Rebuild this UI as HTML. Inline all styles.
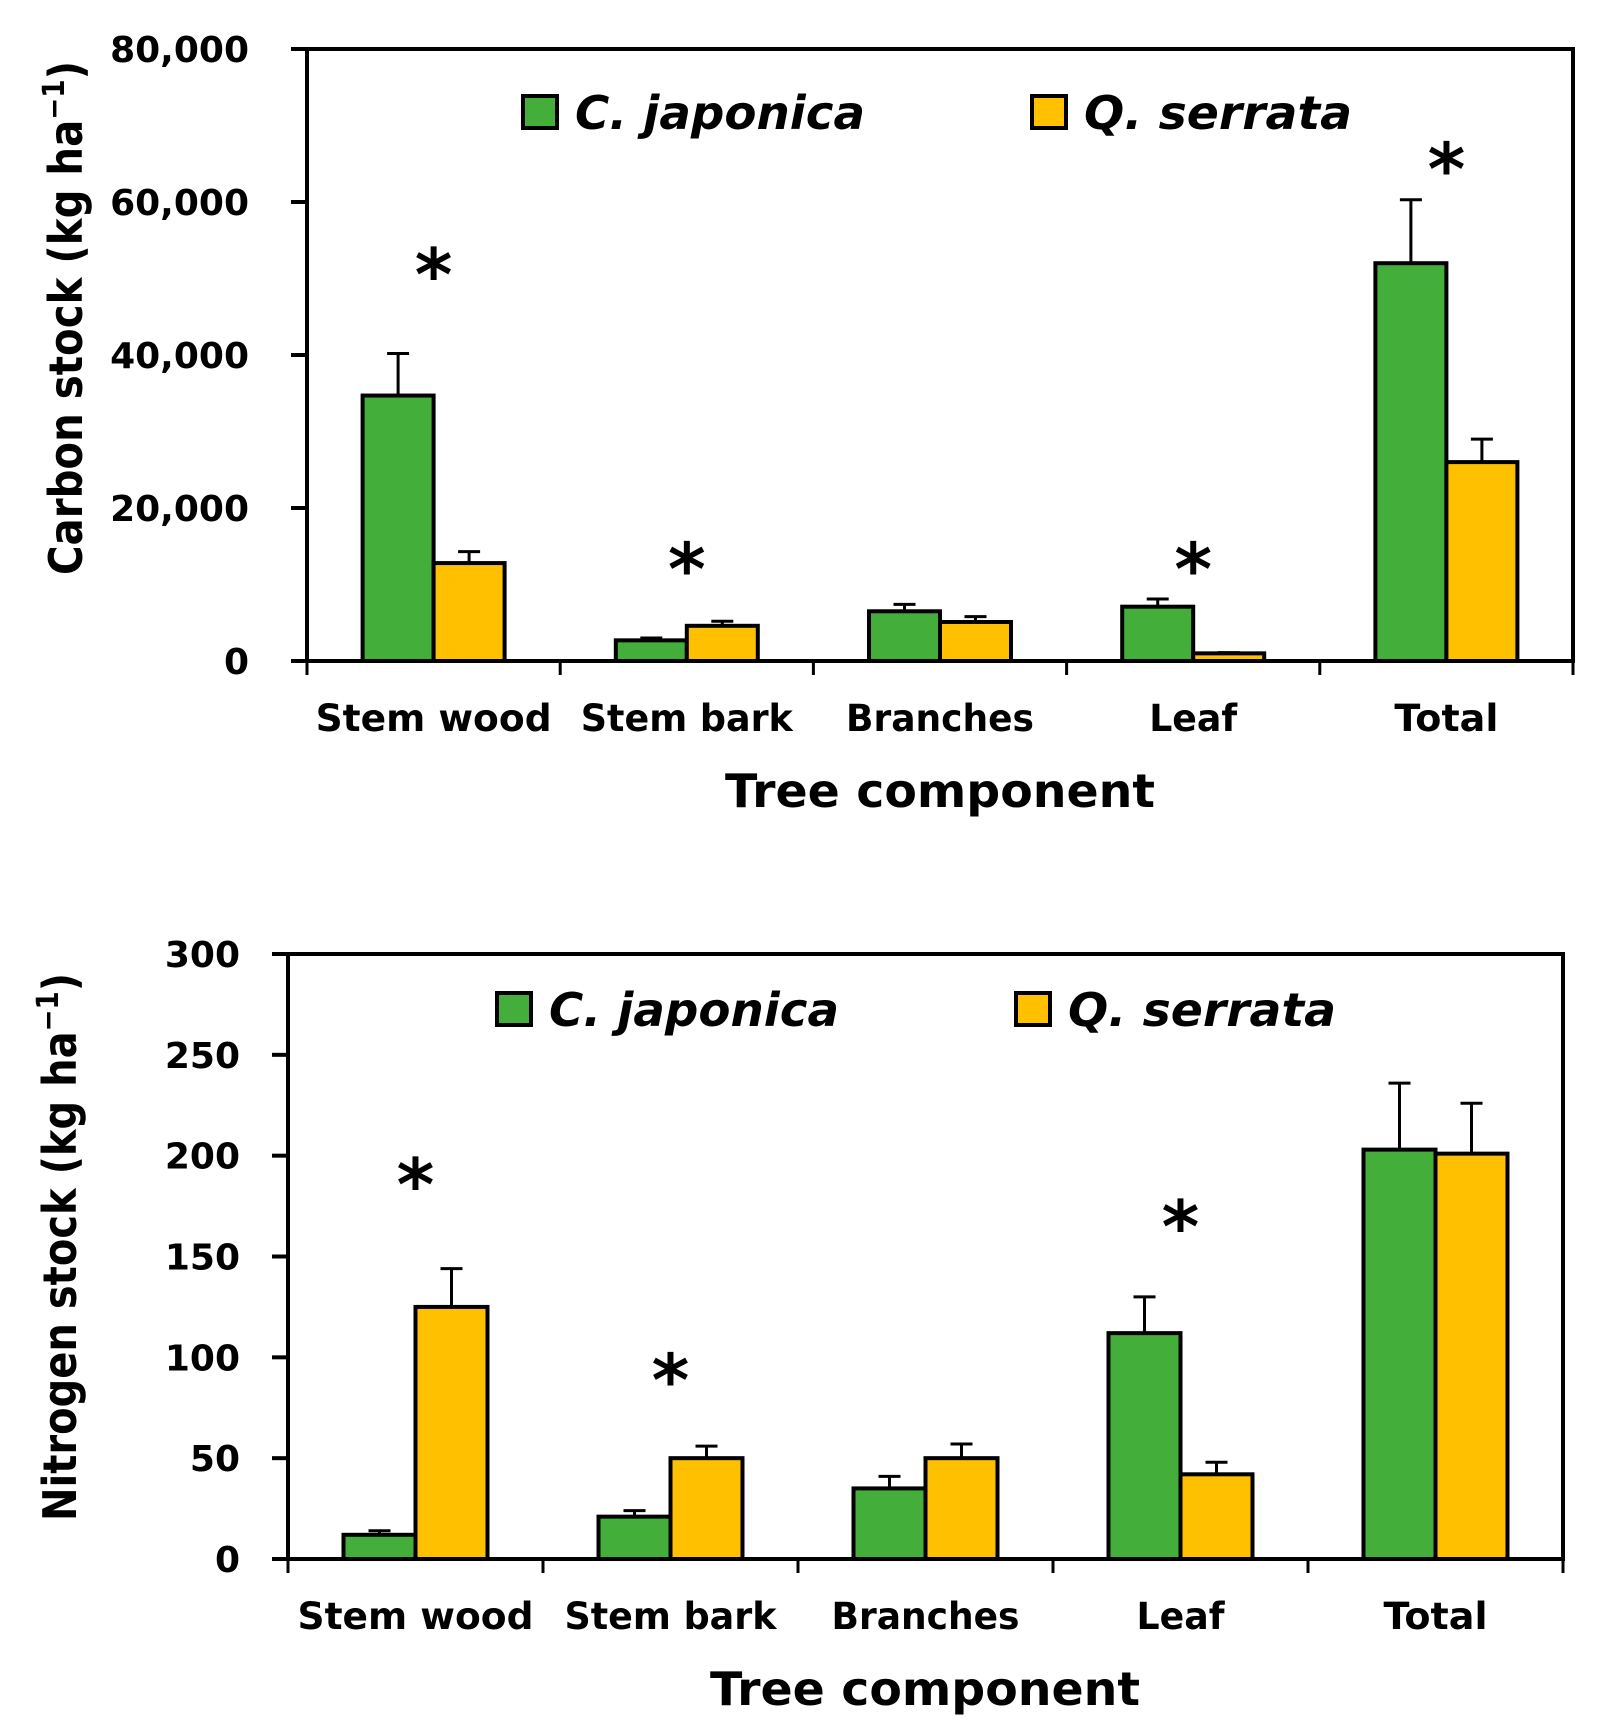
<!DOCTYPE html>
<html><head><meta charset="utf-8"><style>
html,body{margin:0;padding:0;background:#fff}
svg{display:block}
text{font-family:"DejaVu Sans","Liberation Sans",sans-serif;font-weight:bold;fill:#000}
</style></head><body>
<svg id="fig" width="1613" height="1735" viewBox="0 0 1613 1735" xmlns="http://www.w3.org/2000/svg"></svg>
<script>
const categories = ["Stem wood","Stem bark","Branches","Leaf","Total"];
const carbonCJ = [34700, 2700, 6500, 7100, 52000];
const carbonCJErr = [40200, 3000, 7400, 8100, 60300];
const carbonQS = [12800, 4600, 5100, 1000, 26000];
const carbonQSErr = [14300, 5200, 5800, 1100, 29000];
const carbonTicks = [0, 20000, 40000, 60000, 80000];
const carbonTickLabels = ["0","20,000","40,000","60,000","80,000"];
const carbonStars = [[0, 52700], [1, 14200], [3, 14200], [4, 66500]];
const nitroCJ = [12, 21, 35, 112, 203];
const nitroCJErr = [14, 24, 41, 130, 236];
const nitroQS = [125, 50, 50, 42, 201];
const nitroQSErr = [144, 56, 57, 48, 226];
const nitroTicks = [0, 50, 100, 150, 200, 250, 300];
const nitroTickLabels = ["0","50","100","150","200","250","300"];
const nitroStars = [[0, 194], [1, 97], [3, 173]];

const NS = "http://www.w3.org/2000/svg";
const svg = document.getElementById("fig");
function mk(tag, attrs, parent, txt){
  const e = document.createElementNS(NS, tag);
  for (const k in attrs) e.setAttribute(k, attrs[k]);
  if (txt !== undefined) e.textContent = txt;
  (parent || svg).appendChild(e);
  return e;
}
function chart(cfg){
  const g = mk("g", {});
  
  
  const {L, R, T, B, max} = cfg;
  const y = v => B - (v / max) * (B - T);
  const gw = (R - L) / categories.length;
  const x = i => L + gw * (i + 0.5);
  const bw = cfg.bw;
  [[cfg.cj, cfg.cjErr, "#44ae3b", -1, "cj"], [cfg.qs, cfg.qsErr, "#ffc000", 0, "qs"]].forEach(([vals, errs, col, off, nm]) => {
    vals.forEach((v, i) => {
      const x0 = x(i) + off * bw;
      const eb = mk("line", {x1: x0 + bw/2, x2: x0 + bw/2, y1: y(v), y2: y(errs[i]), stroke: "#000", "stroke-width": 3}, g);
      
      
      const cap = mk("line", {x1: x0 + bw/2 - 11, x2: x0 + bw/2 + 11, y1: y(errs[i]), y2: y(errs[i]), stroke: "#000", "stroke-width": 3}, g);
      
      
      const r = mk("rect", {x: x0, y: y(v), width: bw, height: B - y(v), fill: col, stroke: "#000", "stroke-width": 4}, g);
      
      
    });
  });
  const fr = mk("rect", {x: L, y: T, width: R - L, height: B - T, fill: "none", stroke: "#000", "stroke-width": 4}, g);
  
  
  cfg.ticks.forEach((t, i) => {
    const tk = mk("line", {x1: L - 16, x2: L, y1: y(t), y2: y(t), stroke: "#000", "stroke-width": 4}, g);
    
    
    const tl = mk("text", {x: cfg.tickX, y: y(t) + 13, "text-anchor": "end", "font-size": 36}, g, cfg.tickLabels[i]);
    
    
  });
  for (let i = 0; i <= categories.length; i++) {
    const tk = mk("line", {x1: L + gw*i, x2: L + gw*i, y1: B, y2: B + 14, stroke: "#000", "stroke-width": 3}, g);
    
    
  }
  const lens = [236, 212, 188, 88, 104];
  categories.forEach((c, i) => {
    const t = mk("text", {x: x(i), y: B + 70, "text-anchor": "middle", "font-size": 37, textLength: lens[i], lengthAdjust: "spacingAndGlyphs"}, g, c);
    
    
  });
  const xt = mk("text", {x: cfg.xtX, y: B + 146, "text-anchor": "middle", "font-size": 46, textLength: 430, lengthAdjust: "spacingAndGlyphs"}, g, "Tree component");
  
  
  const yt = mk("text", {x: 0, y: 0, "text-anchor": "middle", "font-size": 46, textLength: cfg.ytLen, lengthAdjust: "spacingAndGlyphs", transform: `translate(${cfg.ytX},${cfg.ytY}) rotate(-90)`}, g);
  
  
  yt.appendChild(document.createTextNode(cfg.ytText + " (kg ha"));
  mk("tspan", {dy: -18, "font-size": 30}, yt, "−1");
  mk("tspan", {dy: 18}, yt, ")");
  cfg.stars.forEach(([i, v]) => {
    const s = mk("text", {x: x(i), y: y(v) + 42, "text-anchor": "middle", "font-size": 72, "font-weight": "normal"}, g, "*");
    
    
  });
  [[cfg.leg[0], "#44ae3b", "C. japonica"], [cfg.leg[1], "#ffc000", "Q. serrata"]].forEach(([lx, col, lab]) => {
    const sq = mk("rect", {x: lx, y: cfg.legY, width: 34, height: 32, fill: col, stroke: "#000", "stroke-width": 4}, g);
    
    
    const lt = mk("text", {x: lx + 52, y: cfg.legY + 33, "font-size": 46, "font-style": "italic", textLength: lab[0]=="C" ? 290 : 268, lengthAdjust: "spacingAndGlyphs"}, g, lab);
    
    
  });
}
chart({name: "carbon-chart", L: 307, R: 1573, T: 49, B: 661, max: 80000, bw: 71,
  cj: carbonCJ, cjErr: carbonCJErr, qs: carbonQS, qsErr: carbonQSErr,
  ticks: carbonTicks, tickLabels: carbonTickLabels, tickX: 249, stars: carbonStars,
  xtX: 940, ytX: 82, ytY: 318, ytLen: 514, ytText: "Carbon stock",
  leg: [523, 1032], legY: 96});
chart({name: "nitrogen-chart", L: 288, R: 1563, T: 954, B: 1559, max: 300, bw: 72,
  cj: nitroCJ, cjErr: nitroCJErr, qs: nitroQS, qsErr: nitroQSErr,
  ticks: nitroTicks, tickLabels: nitroTickLabels, tickX: 240, stars: nitroStars,
  xtX: 925, ytX: 76, ytY: 1247, ytLen: 548, ytText: "Nitrogen stock",
  leg: [497, 1016], legY: 993});
</script>
</body></html>
